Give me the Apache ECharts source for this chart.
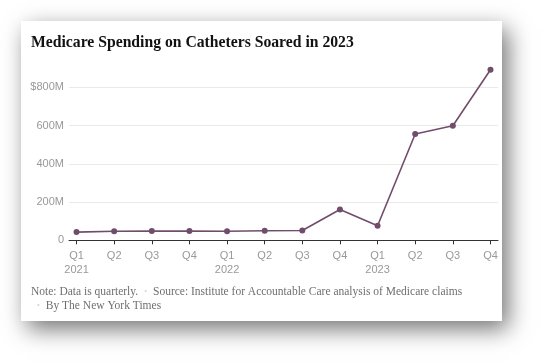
<!DOCTYPE html>
<html>
<head>
<meta charset="utf-8">
<script src="https://cdn.jsdelivr.net/npm/echarts@6/dist/echarts.min.js"></script>
<style>
html,body{margin:0;padding:0;background:#fff;}
#chart{width:548px;height:363px;}
</style>
</head>
<body>
<div id="chart"></div>
<script>
var quarters = ['Q1','Q2','Q3','Q4','Q1','Q2','Q3','Q4','Q1','Q2','Q3','Q4'];
var years = ['2021','','','','2022','','','','2023','','',''];
var spending = [43, 47, 48, 48, 47, 50, 51, 161, 76, 556, 599, 892];
var yTickValues = [0, 200, 400, 600, 800];
var yTickLabels = ['0', '200M', '400M', '600M', '$800M'];
var titleText = 'Medicare Spending on Catheters Soared in 2023';
var noteText = 'Note: Data is quarterly.';
var sourceText = 'Source: Institute for Accountable Care analysis of Medicare claims';
var bylineText = 'By The New York Times';

var idx = quarters.map(function (q, i) { return i; });
var points = spending.map(function (v, i) { return [i, v]; });

var chart = echarts.init(document.getElementById('chart'), null, {renderer: 'canvas'});
chart.setOption({
  backgroundColor: '#ffffff',
  animation: false,
  title: {
    text: titleText,
    left: 31,
    top: 35,
    padding: 0,
    textStyle: {
      fontFamily: 'Liberation Serif',
      fontWeight: 'bold',
      fontSize: 15.7,
      color: '#121212'
    }
  },
  graphic: [
    {
      type: 'rect',
      z: -10,
      shape: {x: 21, y: 21, width: 481, height: 300},
      style: {
        fill: '#ffffff',
        shadowBlur: 22,
        shadowColor: 'rgba(0,0,0,0.55)',
        shadowOffsetX: 6,
        shadowOffsetY: 8
      }
    },
    {
      type: 'text',
      left: 31,
      top: 286,
      style: {
        text: '{t|' + noteText + '}{b|   •   }{t|' + sourceText + '}',
        rich: {
          t: {fontFamily: 'Liberation Serif', fontSize: 11.5, fill: '#6f6f6f'},
          b: {fontFamily: 'Liberation Serif', fontSize: 8, fill: '#d4d4d4'}
        }
      }
    },
    {
      type: 'text',
      left: 37,
      top: 300,
      style: {
        text: '{b|•   }{t|' + bylineText + '}',
        rich: {
          t: {fontFamily: 'Liberation Serif', fontSize: 11.5, fill: '#6f6f6f'},
          b: {fontFamily: 'Liberation Serif', fontSize: 8, fill: '#d4d4d4'}
        }
      }
    }
  ],
  grid: {left: 69, right: 50, top: 87.3, bottom: 122.7, containLabel: false},
  xAxis: {
    type: 'value',
    min: -0.2,
    max: 11.2,
    axisLine: {show: true, lineStyle: {color: '#333333', width: 1}},
    axisTick: {show: true, customValues: idx, length: 4, lineStyle: {color: '#333333'}},
    splitLine: {show: false},
    axisLabel: {
      customValues: idx,
      margin: 9,
      fontFamily: 'Liberation Sans',
      fontSize: 11,
      color: '#999999',
      lineHeight: 14,
      formatter: function (v) {
        var i = Math.round(v);
        return years[i] ? quarters[i] + '\n' + years[i] : quarters[i];
      }
    }
  },
  yAxis: {
    type: 'value',
    min: 0,
    max: 800,
    interval: 200,
    axisLine: {show: false},
    axisTick: {show: false},
    splitLine: {show: true, lineStyle: {color: '#e9e9e9', width: 1}},
    axisLabel: {
      margin: 5,
      fontFamily: 'Liberation Sans',
      fontSize: 11,
      color: '#999999',
      formatter: function (v) {
        var k = yTickValues.indexOf(v);
        return k >= 0 ? yTickLabels[k] : '';
      }
    }
  },
  series: [{
    type: 'line',
    data: points,
    clip: false,
    symbol: 'circle',
    symbolSize: 6,
    lineStyle: {color: '#714d6c', width: 1.6},
    itemStyle: {color: '#714d6c'}
  }]
});
</script>
</body>
</html>
